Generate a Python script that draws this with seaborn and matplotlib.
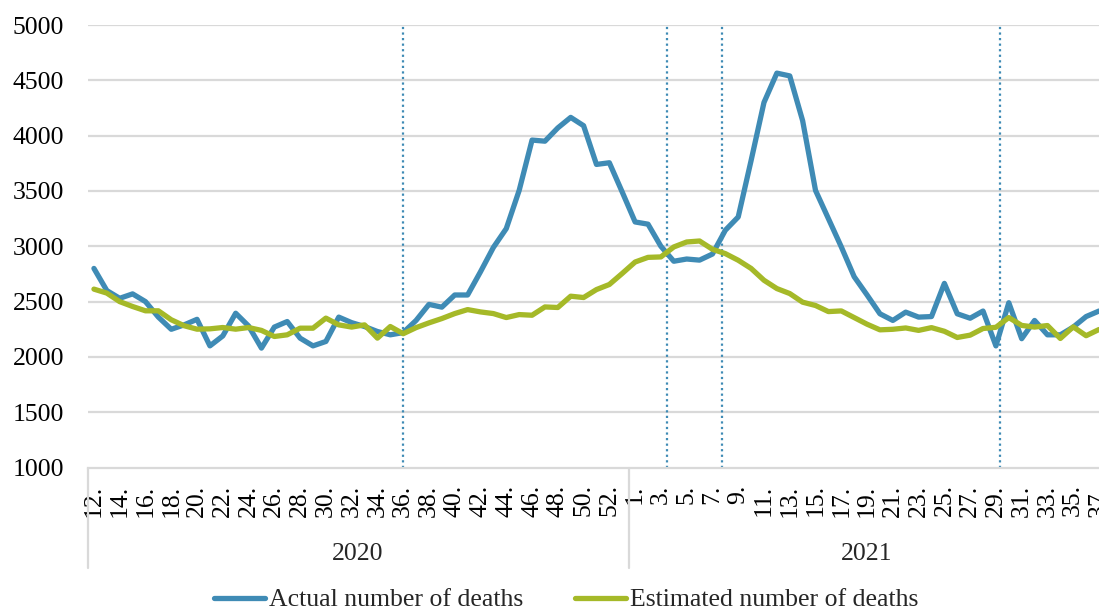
import seaborn as sns
import matplotlib.pyplot as plt
import pandas as pd

# week numbers shown on the category axis
weeks_2020 = list(range(12, 54))
weeks_2021 = list(range(1, 38))

actual = [2800, 2600, 2530, 2570, 2500, 2360, 2250, 2290, 2340, 2100,
          2190, 2395, 2280, 2080, 2270, 2320, 2170, 2100, 2140, 2360,
          2310, 2275, 2230, 2200, 2220, 2330, 2475, 2450, 2560, 2560,
          2770, 2990, 3160, 3505, 3960, 3950, 4070, 4165, 4090, 3740,
          3755, 3490, 3220, 3200, 3000, 2865, 2885, 2875, 2930, 3145,
          3265, 3775, 4300, 4565, 4540, 4135, 3505, 3250, 2995, 2725,
          2560, 2390, 2330, 2405, 2360, 2365, 2665, 2390, 2350, 2415,
          2100, 2490, 2165, 2330, 2200, 2200, 2270, 2365, 2415]

estimated = [2613, 2577, 2500, 2456, 2417, 2417, 2336, 2282, 2251, 2254,
             2266, 2251, 2266, 2240, 2185, 2200, 2260, 2260, 2351, 2290,
             2270, 2290, 2170, 2275, 2210, 2265, 2308, 2347, 2392, 2428,
             2407, 2392, 2356, 2383, 2377, 2452, 2447, 2549, 2537, 2609,
             2655, 2755, 2858, 2900, 2904, 2994, 3039, 3048, 2973, 2934,
             2874, 2800, 2693, 2618, 2573, 2495, 2465, 2410, 2416, 2356,
             2296, 2245, 2250, 2262, 2240, 2265, 2232, 2176, 2197, 2257,
             2268, 2356, 2285, 2270, 2284, 2167, 2272, 2192, 2248]

# dotted marker lines: (year, week position)
events = [(2020, 36.0), (2021, 3.46), (2021, 7.78), (2021, 29.29)]

BLUE = '#3F8BB5'
GREEN = '#A5B928'


def week_pos(year, week):
    if year == 2020:
        return week - weeks_2020[0]
    return len(weeks_2020) + week - weeks_2021[0]


def main():
    labels = [f'{w}.' for w in weeks_2020] + [f'{w}.' for w in weeks_2021]
    n = len(labels)
    df = pd.DataFrame({
        'pos': list(range(n)) * 2,
        'deaths': actual + estimated,
        'series': ['Actual number of deaths'] * n + ['Estimated number of deaths'] * n,
    })

    sns.set_theme(style='white')
    plt.rcParams['font.family'] = ['Liberation Serif', 'DejaVu Serif']

    fig = plt.figure(figsize=(10.99, 6.12), dpi=100)
    ax = fig.add_axes([87.5 / 1099, 1 - 467.6 / 612, 1 - 87.5 / 1099, (467.6 - 25) / 612])

    for y in range(1500, 5001, 500):
        ax.axhline(y, color='#D9D9D9', lw=1.6, zorder=0)

    for year, wk in events:
        ax.axvline(week_pos(year, wk), color=BLUE, lw=1.6, ls=(0, (1, 1.5)), zorder=1)

    sns.lineplot(data=df, x='pos', y='deaths', hue='series', sort=False,
                 palette=[BLUE, GREEN], lw=3.8, ax=ax, zorder=3)

    ax.set_ylim(1000, 5000)
    ax.set_xlim(-0.5, 77.97)
    ax.set_yticks(range(1000, 5001, 500))
    ax.set_xticks(range(0, n, 2))
    ax.set_xticklabels(labels[::2], rotation=90)
    ax.tick_params(axis='y', labelsize=18.5, pad=17, length=0, colors='black')
    ax.tick_params(axis='x', labelsize=18.5, pad=12, length=0, colors='black')
    ax.set_xlabel('')
    ax.set_ylabel('')
    for s in ['top', 'right', 'left']:
        ax.spines[s].set_visible(False)
    ax.spines['bottom'].set_color('#D9D9D9')
    ax.spines['bottom'].set_linewidth(1.6)

    # year group separators and labels under the axis
    tr = ax.get_xaxis_transform()
    for xs in [-0.5, len(weeks_2020) - 0.5]:
        ax.plot([xs, xs], [0, -0.227], transform=tr, color='#D9D9D9', lw=1.6, clip_on=False)
    ax.text((len(weeks_2020) - 1) / 2, -0.196, '2020', transform=tr,
            ha='center', va='center', fontsize=18.5)
    ax.text(len(weeks_2020) + (len(weeks_2021) - 1) / 2, -0.196, '2021', transform=tr,
            ha='center', va='center', fontsize=18.5)

    handles, names = ax.get_legend_handles_labels()
    ax.get_legend().remove()
    fig.legend(handles, names, loc='center', bbox_to_anchor=(566 / 1099, 1 - 600 / 612),
               ncol=2, frameon=False, fontsize=18.5, handlelength=2.0,
               handletextpad=0.15, columnspacing=2.0)

    fig.savefig('out.png', dpi=100)


if __name__ == '__main__':
    main()
